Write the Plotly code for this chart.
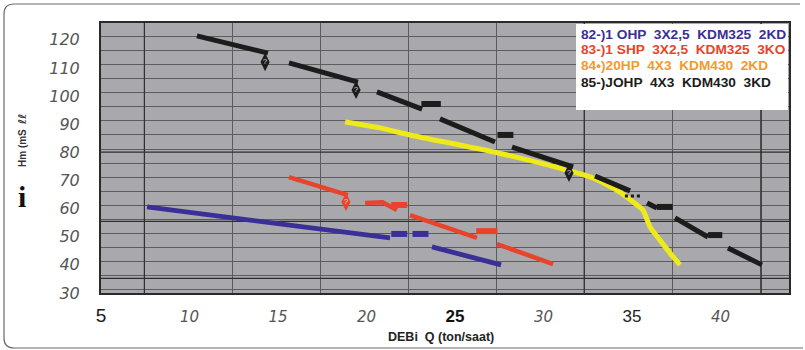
import plotly.graph_objects as go

# ---------------- data ----------------
x_ticks = [5, 10, 15, 20, 25, 30, 35, 40]
x_tick_labels = [
    "<span style='font-style:normal;fill:#1a1a1a;font-size:19px;font-family:Liberation Sans'>5</span>",
    "10", "15", "20",
    "<span style='font-style:normal;fill:#111;font-size:17px;font-family:Liberation Sans'><b>25</b></span>",
    "30",
    "<span style='font-style:normal;fill:#222;font-size:17px;font-family:Liberation Sans'>35</span>",
    "40",
]
y_ticks = [30, 40, 50, 60, 70, 80, 90, 100, 110, 120]

legend_names = [
    "82-)1 OHP  3X2,5  KDM325  2KD",
    "83-)1 SHP  3X2,5  KDM325  3KO",
    "84•)20HP  4X3  KDM430  2KD",
    "85-)JOHP  4X3  KDM430  3KD",
]

# 82 (blue)
s82_x = [7.6, 21.33, None, 23.7, 27.6]
s82_y = [60.6, 49.6, None, 46.4, 40.0]
s82_dash_x0 = [21.4, 22.6]
s82_dash_x1 = [22.3, 23.5]
s82_dash_y = [51.0, 51.0]

# 83 (red)
s83_x = [15.62, 18.95, None, 19.92, 20.9, 21.72, None, 22.46, 26.24, None, 27.37, 30.54]
s83_y = [71.2, 64.8, None, 62.0, 62.3, 59.5, None, 57.7, 49.6, None, 47.4, 40.3]
s83_dash_x0 = [21.4, 26.2]
s83_dash_x1 = [22.3, 27.4]
s83_dash_y = [61.3, 52.0]
s83_mark_x = [18.84]
s83_mark_y = [62.4]

# 84 (yellow)
s84_x = [18.79, 20.76, 22.46, 27.43, 31.33, 32.8, 34.32, 35.28, 35.62, 36.02, 36.58, 37.15, 37.71]
s84_y = [90.8, 88.7, 86.2, 79.8, 73.7, 70.9, 65.9, 61.3, 59.5, 53.5, 48.8, 44.2, 40.0]

# 85 (black)
s85_x = [10.42, 14.43, None, 15.62, 19.52, None, 20.59, 23.14, None, 24.15, 27.26, None,
         28.22, 31.67, None, 32.91, 34.89, None, 35.85, 36.41, None, 37.43, 39.29, None,
         40.42, 42.34]
s85_y = [121.4, 115.3, None, 111.8, 105.0, None, 101.5, 95.4, None, 91.9, 83.7, None,
         81.9, 74.8, None, 71.6, 66.3, None, 62.0, 60.2, None, 56.7, 49.9, None,
         46.0, 40.0]
s85_dash_x0 = [23.1, 27.4, 36.4, 39.3]
s85_dash_x1 = [24.2, 28.3, 37.3, 40.1]
s85_dash_y = [97.2, 86.2, 60.6, 50.6]
s85_dot_x = [34.6, 35.6]
s85_dot_y = [64.5, 64.5]
s85_mark_x = [14.27, 19.41, 31.44]
s85_mark_y = [112.1, 102.2, 72.7]

# ---------------- styling ----------------
BLUE = "#3a2f97"
RED = "#e8442c"
YELLOW = "#efeb18"
ORANGE = "#f39a2c"
BLACK = "#1c1c1c"

W, H = 805, 350
ML, MR, MT, MB = 101, 16, 23, 57
PW, PH = W - ML - MR, H - MT - MB


def px(x):
    return (x - ML) / PW


def py(y):
    return (H - MB - y) / PH


def dash_xy(x0s, x1s, ys):
    xs, yv = [], []
    for a, b, c in zip(x0s, x1s, ys):
        xs += [a, b, None]
        yv += [c, c, None]
    return xs, yv


fig = go.Figure()

# series lines
fig.add_trace(go.Scatter(x=s82_x, y=s82_y, mode="lines", name=legend_names[0],
                         line=dict(color=BLUE, width=4.8), showlegend=False))
fig.add_trace(go.Scatter(x=s83_x, y=s83_y, mode="lines", name=legend_names[1],
                         line=dict(color=RED, width=4.5), showlegend=False))
fig.add_trace(go.Scatter(x=s84_x, y=s84_y, mode="lines", name=legend_names[2],
                         line=dict(color=YELLOW, width=5, shape="spline", smoothing=0.6),
                         showlegend=False))
fig.add_trace(go.Scatter(x=s85_x, y=s85_y, mode="lines", name=legend_names[3],
                         line=dict(color=BLACK, width=5), showlegend=False))

# short dash blocks
for x0s, x1s, ys, col in [(s82_dash_x0, s82_dash_x1, s82_dash_y, BLUE),
                          (s83_dash_x0, s83_dash_x1, s83_dash_y, RED),
                          (s85_dash_x0, s85_dash_x1, s85_dash_y, BLACK)]:
    dx, dy = dash_xy(x0s, x1s, ys)
    fig.add_trace(go.Scatter(x=dx, y=dy, mode="lines", line=dict(color=col, width=6),
                             showlegend=False, hoverinfo="skip"))

fig.add_trace(go.Scatter(x=s85_dot_x, y=s85_dot_y, mode="lines",
                         line=dict(color=BLACK, width=3, dash="dot"),
                         showlegend=False, hoverinfo="skip"))

# diamond markers with a "?" inside
for mx, my, col in [(s85_mark_x, s85_mark_y, BLACK), (s83_mark_x, s83_mark_y, RED)]:
    fig.add_trace(go.Scatter(x=mx, y=my, mode="markers+text", text=["?"] * len(mx),
                             textposition="middle center",
                             marker=dict(symbol="diamond-tall", size=13, color=col,
                                         line=dict(width=0)),
                             textfont=dict(family="Liberation Sans", size=8, color="#dddddd"),
                             showlegend=False, hoverinfo="skip"))

# darker grid lines
dark_grid_y = [80.1, 55.5, 35.2]
dark_grid_x = [7.45, 32.3, 42.3]
shapes = []
for v in dark_grid_y:
    shapes.append(dict(type="line", xref="x", yref="y", x0=5, x1=43.87, y0=v, y1=v,
                       line=dict(color="#2e2e2e", width=1.2), layer="between"))
for v in dark_grid_x:
    shapes.append(dict(type="line", xref="x", yref="y", x0=v, x1=v, y0=30, y1=126,
                       line=dict(color="#2e2e2e", width=1.2), layer="between"))

# legend white box (above grid lines)
shapes.append(dict(type="rect", xref="paper", yref="paper", x0=px(576), x1=px(788), y0=py(110), y1=py(24),
                   fillcolor="white", line=dict(width=0), layer="above"))

# outer frame with rounded left corners
frame = (f"M {px(800)},{py(4)} L {px(14)},{py(4)} Q {px(4)},{py(4)} {px(4)},{py(14)} "
         f"L {px(4)},{py(338)} Q {px(4)},{py(348)} {px(14)},{py(348)} L {px(803)},{py(348)}")
shapes.append(dict(type="path", xref="paper", yref="paper", path=frame,
                   line=dict(color="#6a6a6a", width=1.2), layer="above"))

annotations = []
leg_cols = [BLUE, RED, ORANGE, BLACK]
leg_y = [34, 50, 66, 82]
for name, col, yy in zip(legend_names, leg_cols, leg_y):
    annotations.append(dict(xref="paper", yref="paper", x=px(579), y=py(yy), text=f"<b>{name}</b>",
                            showarrow=False, xanchor="left", yanchor="middle",
                            font=dict(family="Liberation Sans", size=13.7, color=col)))

annotations.append(dict(xref="paper", yref="paper", x=px(441), y=py(337),
                        text="<b>DEBi  Q (ton/saat)</b>", showarrow=False,
                        xanchor="center", yanchor="middle",
                        font=dict(family="Liberation Sans", size=12.5, color="#222")))
annotations.append(dict(xref="paper", yref="paper", x=px(22), y=py(148),
                        text="<b>Hm (mS</b>", textangle=-90, showarrow=False,
                        xanchor="center", yanchor="middle",
                        font=dict(family="Liberation Sans", size=10, color="#333")))
annotations.append(dict(xref="paper", yref="paper", x=px(22), y=py(120),
                        text="<b><i>ℓℓ</i></b>", textangle=-90, showarrow=False,
                        xanchor="center", yanchor="middle",
                        font=dict(family="DejaVu Sans", size=11, color="#444")))
annotations.append(dict(xref="paper", yref="paper", x=px(22), y=py(196),
                        text="<b>i</b>", showarrow=False,
                        xanchor="center", yanchor="middle",
                        font=dict(family="Liberation Serif", size=30, color="#111")))

fig.update_layout(
    width=W, height=H,
    margin=dict(l=ML, r=MR, t=MT, b=MB, autoexpand=False),
    paper_bgcolor="white",
    plot_bgcolor="#a9a9ad",
    shapes=shapes,
    annotations=annotations,
    showlegend=False,
)

fig.update_xaxes(
    range=[5, 43.87], tickvals=x_ticks, ticktext=x_tick_labels,
    showgrid=False, zeroline=False, automargin=False,
    showline=True, mirror=True, linecolor="#2a2a2a", linewidth=2,
    ticks="", ticklabelstandoff=9,
    tickfont=dict(family="DejaVu Sans", size=15, color="#555", style="italic"),
    minor=dict(tick0=7.45, dtick=4.97, showgrid=True, gridcolor="#5c5c5c", gridwidth=1),
)
fig.update_yaxes(
    range=[30, 126], tickvals=y_ticks,
    showgrid=False, zeroline=False, automargin=False,
    showline=True, mirror=True, linecolor="#2a2a2a", linewidth=2,
    ticks="", ticklabelstandoff=16,
    tickfont=dict(family="DejaVu Sans", size=16, color="#555", style="italic"),
    minor=dict(tick0=1.2, dtick=5, showgrid=True, gridcolor="#5c5c5c", gridwidth=1),
)

fig.write_html("out.html", config={"displayModeBar": False},
               post_script="document.body.style.margin='0';document.body.style.padding='0';")
